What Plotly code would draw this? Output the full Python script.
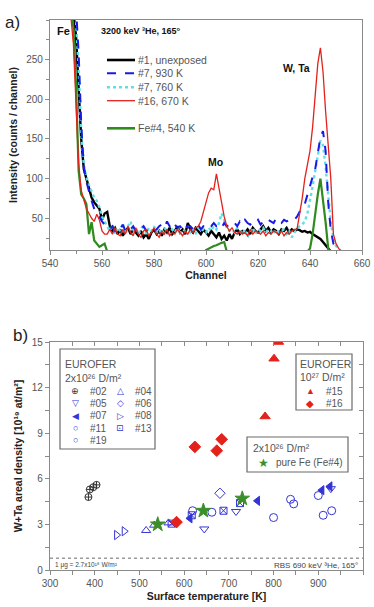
import plotly.graph_objects as go

# ---------------- panel a data: RBS spectra ----------------
channels = list(range(546, 654))

unexposed_1 = [340, 330, 320, 310, 280, 210, 150, 112, 98, 88, 76, 70, 66, 62, 48, 56, 58, 40, 34, 38,
               30, 36, 28, 34, 38, 30, 36, 32, 28, 34, 26, 30, 24, 32, 36, 30, 34, 28, 36, 32,
               38, 30, 34, 40, 32, 36, 30, 44, 36, 32, 38, 34, 30, 36, 32, 28, 34, 30, 26, 32,
               24, 28, 22, 30, 24, 32, 36, 30, 34, 32, 36, 30, 38, 34, 32, 36, 40, 34, 38, 32,
               36, 34, 30, 36, 34, 38, 32, 36, 34, 36, 35, 33, 34, 32, 33, 30, 28, 27, 24, 20,
               16, 12, 8, 6, 5, 5, 5, 5]
s7_930K = [340, 335, 330, 325, 315, 260, 170, 115, 96, 82, 72, 62, 56, 52, 46, 42, 38, 36, 40, 34,
           38, 36, 42, 34, 38, 36, 40, 34, 38, 36, 40, 34, 36, 38, 34, 36, 40, 42, 38, 46,
           40, 36, 42, 38, 40, 36, 42, 38, 40, 36, 38, 42, 36, 40, 38, 42, 40, 44, 40, 42,
           38, 44, 40, 42, 46, 44, 40, 46, 42, 48, 44, 42, 46, 44, 48, 42, 46, 44, 48, 46,
           44, 50, 46, 44, 48, 46, 48, 50, 48, 52, 58, 62, 68, 80, 92, 102, 112, 132, 152, 160,
           135, 70, 35, 18, 12, 8, 5, 5]
s7_760K = [340, 335, 330, 320, 300, 240, 160, 118, 102, 92, 84, 76, 72, 64, 52, 46, 40, 34, 42, 30,
           38, 34, 44, 30, 40, 46, 32, 38, 30, 36, 42, 30, 38, 34, 40, 32, 36, 30, 38, 34,
           30, 36, 32, 38, 30, 36, 34, 40, 32, 36, 30, 38, 34, 36, 32, 38, 34, 40, 36, 44,
           56, 48, 38, 34, 36, 32, 38, 34, 30, 36, 26, 34, 38, 30, 36, 34, 38, 32, 36, 34,
           30, 36, 32, 34, 36, 30, 34, 26, 32, 36, 40, 42, 46, 56, 72, 90, 110, 130, 148, 142,
           115, 80, 45, 25, 15, 12, 9, 5]
s16_670K = [340, 320, 305, 270, 190, 120, 85, 72, 62, 56, 50, 46, 55, 48, 34, 30, 30, 36, 30, 38,
            30, 28, 36, 30, 40, 32, 28, 38, 30, 26, 34, 36, 28, 32, 38, 30, 26, 34, 30, 36,
            28, 32, 30, 36, 32, 28, 34, 30, 36, 32, 38, 40, 46, 58, 70, 82, 88, 86, 106, 90,
            70, 52, 40, 34, 38, 32, 30, 34, 30, 32, 28, 36, 30, 34, 32, 30, 34, 28, 32, 30,
            34, 32, 30, 34, 28, 32, 30, 34, 36, 36, 55, 75, 100, 118, 135, 165, 205, 245, 265, 235,
            185, 145, 100, 30, 18, 12, 8, 5]
fe4_540K = [340, 330, 318, 290, 220, 110, 80, 75, 68, 30, 45, 22, 18, 14, 16, 18, 8, 5, 5, 5,
            5, 5, 5, 5, 5, 5, 5, 5, 5, 5, 5, 5, 5, 5, 5, 5, 5, 5, 5, 5,
            5, 5, 5, 5, 5, 5, 5, 5, 5, 5, 5, 5, 5, 5, 10, 12, 14, 15, 16, 18,
            19, 20, 8, 5, 5, 5, 5, 5, 5, 5, 5, 5, 5, 5, 5, 5, 5, 5, 5, 5,
            5, 5, 5, 5, 5, 5, 5, 5, 5, 5, 5, 5, 5, 8, 12, 30, 58, 80, 100, 75,
            45, 12, 5, 5, 5, 5, 5, 5]

spec_names = ["#1, unexposed", "#7, 930 K", "#7, 760 K", "#16, 670 K", "Fe#4, 540 K"]

# ---------------- panel b data: W+Ta areal density ----------------
t02 = [386, 389, 397, 404];            d02 = [4.8, 5.3, 5.45, 5.6]
t04 = [515, 533, 565];                 d04 = [2.6, 2.95, 3.1]
t05 = [645, 716, 928];                 d05 = [2.7, 3.85, 5.35]
t06 = [680];                           d06 = [5.05]
t07 = [613, 764, 908, 926];            d07 = [3.4, 4.55, 5.25, 5.5]
t08 = [449, 466];                      d08 = [2.3, 2.55]
t11 = [619, 662, 838, 900];            d11 = [3.9, 3.8, 4.65, 4.9]
t13 = [572, 617, 688, 725];            d13 = [3.05, 3.6, 3.9, 4.4]
t19 = [800, 845, 911, 930];            d19 = [3.45, 4.35, 3.6, 3.9]
t15 = [781, 801, 811];                 d15 = [10.1, 13.9, 15.0]
t16 = [583, 624, 673, 684];            d16 = [3.15, 8.1, 7.85, 8.6]
tfe = [541, 643, 730];                 dfe = [3.0, 3.9, 4.7]
detect_limit = 0.77

W, H = 374, 607
FONT = "Liberation Sans, DejaVu Sans"


def px(x):
    return x / W


def py(y):
    return 1 - y / H


fig = go.Figure()

# spectra
spec_style = [
    (unexposed_1, "#000000", 2.4, "solid"),
    (s7_760K, "#5ee0e6", 2.4, "dot"),
    (s7_930K, "#1a1ae6", 2.0, "dash"),
    (fe4_540K, "#2e8b1e", 2.2, "solid"),
    (s16_670K, "#e3221c", 1.3, "solid"),
]
for vals, col, wd, dash in spec_style:
    fig.add_trace(go.Scatter(x=channels, y=vals, mode="lines", xaxis="x", yaxis="y",
                             line=dict(color=col, width=wd, dash=dash), showlegend=False))

blue = "#3434d4"
sc = [
    (t02, d02, "circle-cross-open", "#333333", 7),
    (t04, d04, "triangle-up-open", blue, 8),
    (t05, d05, "triangle-down-open", blue, 8),
    (t06, d06, "diamond-open", blue, 8),
    (t07, d07, "triangle-left", blue, 8),
    (t08, d08, "triangle-right-open", blue, 8),
    (t11, d11, "circle-open", blue, 8),
    (t13, d13, "square-x-open", blue, 7),
    (t19, d19, "circle-open", blue, 8),
    (t15, d15, "triangle-up", "#e3221c", 9),
    (t16, d16, "diamond", "#e3221c", 9),
    (tfe, dfe, "star", "#3a8f2a", 11),
]
for tx, dy, sym, col, sz in sc:
    fig.add_trace(go.Scatter(x=tx, y=dy, mode="markers", xaxis="x2", yaxis="y2",
                             marker=dict(symbol=sym, color=col, size=sz,
                                         line=dict(color=col, width=1)),
                             showlegend=False))

# detection limit line on overlay axes (gives top / right inside ticks)
fig.add_trace(go.Scatter(x=[300, 1000], y=[detect_limit, detect_limit], mode="lines",
                         xaxis="x3", yaxis="y3", line=dict(color="#9a9a9a", width=1.6, dash="dot"),
                         showlegend=False))

axcol = "#8a8a8a"
tickfont = dict(family=FONT, size=10, color="#555555")
titlefont = dict(family=FONT, size=10.5, color="#222222")

fig.update_layout(
    width=W, height=H, margin=dict(l=0, r=0, t=0, b=0),
    paper_bgcolor="white", plot_bgcolor="white", showlegend=False,
    xaxis=dict(domain=[px(50), px(362)], anchor="y", range=[540, 660],
               tickvals=[540, 560, 580, 600, 620, 640, 660], ticks="outside", ticklen=4,
               tickcolor=axcol, minor=dict(dtick=10, tick0=540, ticks="outside", ticklen=3, tickcolor=axcol),
               showline=True, linecolor=axcol, linewidth=1.2, mirror=True, showgrid=False, zeroline=False,
               tickfont=tickfont, automargin=False,
               title=dict(text="<b>Channel</b>", font=titlefont, standoff=3)),
    yaxis=dict(domain=[py(250), py(20)], anchor="x", range=[10, 300],
               tickvals=[50, 100, 150, 200, 250], ticks="outside", ticklen=4, tickcolor=axcol,
               minor=dict(dtick=25, tick0=0, ticks="outside", ticklen=3, tickcolor=axcol),
               showline=True, linecolor=axcol, linewidth=1.2, mirror=True, showgrid=False, zeroline=False,
               tickfont=tickfont, automargin=False,
               title=dict(text="<b>Intensity (counts / channel)</b>", font=titlefont, standoff=6)),
    xaxis2=dict(domain=[px(50), px(363)], anchor="y2", range=[300, 1000], dtick=100, tick0=300,
                ticks="outside", ticklen=4, tickcolor=axcol,
                minor=dict(dtick=50, tick0=300, ticks="outside", ticklen=4, tickcolor=axcol),
                showline=True, linecolor=axcol, linewidth=1.2, mirror=True, showgrid=False, zeroline=False,
                tickfont=tickfont, automargin=False,
                title=dict(text="<b>Surface temperature [K]</b>", font=titlefont, standoff=4)),
    yaxis2=dict(domain=[py(570), py(342)], anchor="x2", range=[0, 15], dtick=3, tick0=0,
                ticks="outside", ticklen=4, tickcolor=axcol,
                minor=dict(dtick=1.5, tick0=0, ticks="outside", ticklen=4, tickcolor=axcol),
                showline=True, linecolor=axcol, linewidth=1.2, mirror=True, showgrid=False, zeroline=False,
                tickfont=tickfont, automargin=False,
                title=dict(text="<b>W+Ta areal density [10¹⁹ at/m²]</b>",
                           font=titlefont, standoff=7)),
    xaxis3=dict(overlaying="x2", side="top", anchor="y3", range=[300, 1000], dtick=50, tick0=300,
                ticks="inside", ticklen=4, tickcolor=axcol, showticklabels=False, showgrid=False,
                zeroline=False, showline=False),
    yaxis3=dict(overlaying="y2", side="right", anchor="x3", range=[0, 15], dtick=1.5, tick0=0,
                ticks="inside", ticklen=4, tickcolor=axcol, showticklabels=False, showgrid=False,
                zeroline=False, showline=False),
)

ann = []


def text(x, y, s, size=10, color="#555555", anchor="left", bold=False):
    ann.append(dict(xref="paper", yref="paper", x=px(x), y=py(y), text=(f"<b>{s}</b>" if bold else s),
                    showarrow=False, xanchor=anchor, yanchor="middle",
                    font=dict(family=FONT, size=size, color=color)))


# panel labels
text(3, 22, "a)", size=17, color="#222222")
text(11, 335, "b)", size=17, color="#222222")

# panel a texts
text(55, 31, "Fe", size=11, color="#111111", bold=True)
text(99, 31, "3200 keV ³He, 165°", size=9, color="#111111", bold=True)
text(281, 68, "W, Ta", size=10.5, color="#111111", bold=True)
text(206, 162, "Mo", size=10.5, color="#111111", bold=True)

# panel a legend (manual)
leg_y = [60, 73.3, 87.3, 100.7, 128.3]
leg_style = [("#000000", 2.6, "solid"), ("#1a1ae6", 2.0, "dash"), ("#5ee0e6", 2.6, "dot"),
             ("#e3221c", 1.3, "solid"), ("#2e8b1e", 2.6, "solid")]
shapes = []
for yy, name, (col, wd, dash) in zip(leg_y, spec_names, leg_style):
    shapes.append(dict(type="line", xref="paper", yref="paper", x0=px(107), x1=px(135),
                       y0=py(yy), y1=py(yy), line=dict(color=col, width=wd, dash=dash)))
    text(135.5, yy, name, size=10.5, color="#555555")

# panel b legend boxes
box = dict(type="rect", xref="paper", yref="paper", line=dict(color="#6a6a6a", width=1.2),
           fillcolor="white", layer="below")
shapes.append(dict(box, x0=px(60), x1=px(155), y0=py(449), y1=py(349)))
shapes.append(dict(box, x0=px(296), x1=px(352), y0=py(410), y1=py(354)))
shapes.append(dict(box, x0=px(247), x1=px(348), y0=py(472), y1=py(437)))

text(63, 363.5, "EUROFER", size=10.5, color="#555555")
text(63, 377.5, "2x10²⁶ D/m²", size=10.5, color="#555555")
col1 = [("⊕", "#333333", "#02"), ("▽", blue, "#05"), ("◀", blue, "#07"), ("○", blue, "#11"), ("○", blue, "#19")]
col2 = [("△", blue, "#04"), ("◇", blue, "#06"), ("▷", blue, "#08"), ("⊡", blue, "#13")]
rows = [391, 403, 415.5, 428, 440]
for (g, c, s), yy in zip(col1, rows):
    text(75, yy, g, size=9, color=c, anchor="center")
    text(88, yy, s, size=10, color="#555555")
for (g, c, s), yy in zip(col2, rows):
    text(120, yy, g, size=9, color=c, anchor="center")
    text(133, yy, s, size=10, color="#555555")

text(298, 363.5, "EUROFER", size=10.5, color="#555555")
text(298, 377, "10²⁷ D/m²", size=10.5, color="#555555")
text(310, 391, "▲", size=9, color="#e3221c", anchor="center")
text(324, 391, "#15", size=10, color="#555555")
text(310, 403.5, "◆", size=10, color="#e3221c", anchor="center")
text(324, 403.5, "#16", size=10, color="#555555")

text(251, 448, "2x10²⁶ D/m²", size=10.5, color="#555555")
text(263, 463, "★", size=12, color="#3a8f2a", anchor="center")
text(274, 463, "pure Fe (Fe#4)", size=10, color="#555555")

text(53, 565, "1 μg = 2.7x10¹⁸ W/m²", size=6.5, color="#444444")
text(360, 565, "RBS 690 keV ³He, 165°", size=8, color="#444444", anchor="right")

fig.update_layout(annotations=ann, shapes=shapes)
fig.write_html("out.html", config={"displayModeBar": False},
               post_script="document.body.style.margin='0';document.body.style.overflow='hidden';")
